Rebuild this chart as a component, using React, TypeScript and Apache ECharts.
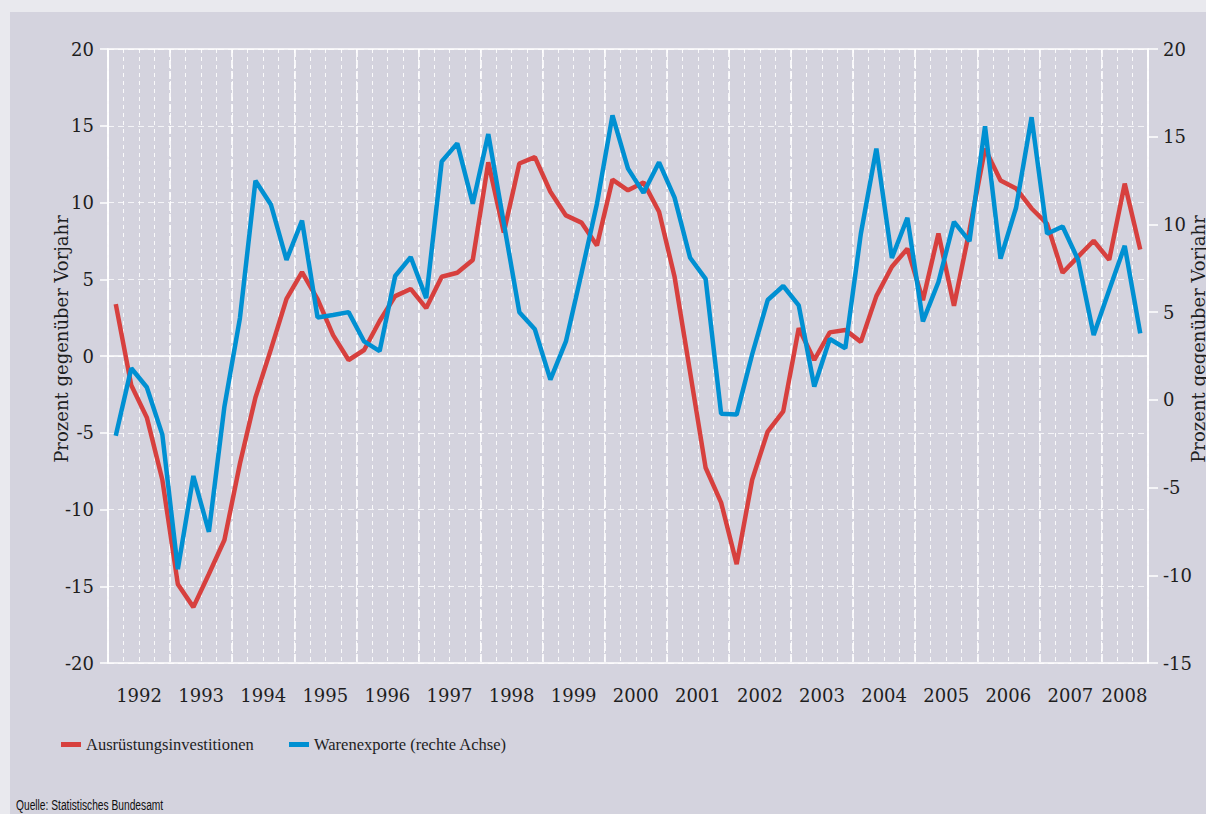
import React, { useEffect, useRef } from "react";
import * as echarts from "echarts";

// ---- Data ----
const years = [1992, 1993, 1994, 1995, 1996, 1997, 1998, 1999, 2000, 2001, 2002, 2003, 2004, 2005, 2006, 2007, 2008];
const lastQuarterOfLastYear = 3;
const quarterLabels: string[] = [];
years.forEach((y) => {
  const n = y === 2008 ? lastQuarterOfLastYear : 4;
  for (let q = 1; q <= n; q++) quarterLabels.push(`${y} Q${q}`);
});

// Ausrüstungsinvestitionen (left axis, % vs previous year)
const investitionen = [
  3.38, -1.91, -4.0, -8.06, -14.87, -16.36, -14.2, -11.99, -7.0, -2.7, 0.45, 3.72,
  5.47, 3.7, 1.36, -0.26, 0.39, 2.28, 3.9, 4.37, 3.12, 5.16, 5.42, 6.26,
  12.62, 8.04, 12.54, 12.96, 10.7, 9.16, 8.69, 7.2, 11.49, 10.79, 11.31, 9.4,
  5.16, -1.05, -7.28, -9.55, -13.56, -8.06, -4.92, -3.61, 1.81, -0.26, 1.54, 1.7,
  0.92, 3.9, 5.81, 6.99, 3.64, 7.98, 3.27, 8.2, 13.5, 11.44, 10.92, 9.61,
  8.61, 5.42, 6.47, 7.51, 6.26, 11.23, 6.94,
];

// Warenexporte (right axis)
const warenexporte = [
  -2.05, 1.8, 0.72, -1.98, -9.65, -4.34, -7.52, -0.38, 4.66, 12.49, 11.12, 7.98,
  10.22, 4.7, 4.84, 5.0, 3.33, 2.78, 7.06, 8.14, 5.8, 13.59, 14.62, 11.18,
  15.15, 10.08, 5.0, 4.02, 1.15, 3.33, 7.2, 11.18, 16.22, 13.18, 11.8, 13.54,
  11.53, 8.1, 6.9, -0.79, -0.84, 2.6, 5.69, 6.49, 5.39, 0.76, 3.47, 2.94,
  9.47, 14.32, 8.09, 10.38, 4.47, 6.72, 10.15, 9.05, 15.6, 8.05, 10.95, 16.11,
  9.47, 9.88, 7.98, 3.7, 6.26, 8.78, 3.79,
];

const seriesNames = ["Ausrüstungsinvestitionen", "Warenexporte (rechte Achse)"];
const axisName = "Prozent gegenüber Vorjahr";
const sourceText = "Quelle: Statistisches Bundesamt";

const leftAxisRange = { min: -20, max: 20, interval: 5 };
const rightAxisRange = { min: -15, max: 20, interval: 5 };
const xYearRange = { min: 1992, max: 2008.75 };

const RED = "#d7403e";
const BLUE = "#0090d2";
const TEXT = "#1e1e1e";
const SERIF = "'DejaVu Serif', serif";

export default function App() {
  const ref = useRef<HTMLDivElement>(null);

  useEffect(() => {
    if (!ref.current) return;
    const chart = echarts.init(ref.current, undefined, { renderer: "svg" });

    const yearLabelFormatter = (v: number) => {
      const frac = v - Math.floor(v);
      if (Math.abs(frac - 0.5) < 1e-6) {
        const y = Math.floor(v);
        return y === 2008 ? `{last|${y}}` : String(y);
      }
      return "";
    };

    chart.setOption({
      animation: false,
      backgroundColor: "#d4d3de",
      grid: {
        left: 98,
        top: 37,
        width: 1040,
        height: 614,
        show: true,
        borderColor: "#ffffff",
        borderWidth: 1.5,
        backgroundColor: "transparent",
        containLabel: false,
        outerBoundsMode: "none",
      },
      legend: [
        {
          data: [seriesNames[0]],
          left: 51,
          top: 724,
          padding: 0,
          icon: "rect",
          itemWidth: 20,
          itemHeight: 5,
          textStyle: { fontFamily: "'Liberation Serif', serif", fontSize: 16.5, color: TEXT },
        },
        {
          data: [seriesNames[1]],
          left: 279,
          top: 724,
          padding: 0,
          icon: "rect",
          itemWidth: 20,
          itemHeight: 5,
          textStyle: { fontFamily: "'Liberation Serif', serif", fontSize: 16.5, color: TEXT },
        },
      ],
      xAxis: [
        {
          type: "category",
          position: "bottom",
          data: quarterLabels,
          boundaryGap: true,
          axisLine: { show: false },
          axisTick: { show: false },
          axisLabel: { show: false },
          splitLine: {
            show: true,
            interval: 0,
            lineStyle: { color: "rgba(255,255,255,0.85)", type: [4, 4], width: 1 },
          },
        },
        {
          type: "value",
          position: "bottom",
          min: xYearRange.min,
          max: xYearRange.max,
          interval: 1,
          axisLine: { show: false },
          axisTick: { show: false },
          axisLabel: { show: false },
          splitLine: {
            show: true,
            lineStyle: { color: "#ffffff", type: [8, 3], width: 1.6 },
          },
        },
        {
          type: "value",
          position: "bottom",
          min: xYearRange.min,
          max: xYearRange.max,
          interval: 0.5,
          axisLine: { show: false },
          axisTick: { show: false },
          splitLine: { show: false },
          axisLabel: {
            show: true,
            margin: 23,
            fontFamily: SERIF,
            fontSize: 18,
            color: TEXT,
            formatter: yearLabelFormatter,
            rich: {
              last: { fontFamily: SERIF, fontSize: 18, color: TEXT, padding: [0, 16, 0, 0] },
            },
          },
        },
      ],
      yAxis: [
        {
          type: "value",
          position: "left",
          min: leftAxisRange.min,
          max: leftAxisRange.max,
          interval: leftAxisRange.interval,
          axisLine: { show: true, lineStyle: { color: "#ffffff", width: 1.5 } },
          axisTick: { show: true, length: 8, lineStyle: { color: "#ffffff", width: 1.5 } },
          axisLabel: { margin: 14, fontFamily: SERIF, fontSize: 18, color: TEXT },
          splitLine: {
            show: true,
            lineStyle: { color: "rgba(255,255,255,0.75)", type: [6, 4], width: 1.2 },
          },
          name: axisName,
          nameLocation: "middle",
          nameGap: 38,
          nameMoveOverlap: false,
          nameTextStyle: { fontFamily: SERIF, fontSize: 18, color: TEXT, padding: [0, 0, 0, 34] },
        },
        {
          type: "value",
          position: "right",
          min: rightAxisRange.min,
          max: rightAxisRange.max,
          interval: rightAxisRange.interval,
          axisLine: { show: true, lineStyle: { color: "#ffffff", width: 1.5 } },
          axisTick: { show: true, length: 10, lineStyle: { color: "#ffffff", width: 1.5 } },
          axisLabel: { margin: 15, fontFamily: SERIF, fontSize: 18, color: TEXT },
          splitLine: { show: false },
          name: axisName,
          nameLocation: "middle",
          nameGap: 41,
          nameMoveOverlap: false,
          nameTextStyle: { fontFamily: SERIF, fontSize: 18, color: TEXT, padding: [0, 0, 0, 34] },
        },
      ],
      series: [
        {
          name: seriesNames[0],
          type: "line",
          xAxisIndex: 0,
          yAxisIndex: 0,
          data: investitionen,
          symbol: "none",
          z: 3,
          lineStyle: { color: RED, width: 4.5 },
          itemStyle: { color: RED },
          markLine: {
            silent: true,
            symbol: ["none", "none"],
            z: 1,
            label: { show: false },
            lineStyle: { color: "#ffffff", type: "solid", width: 1.6 },
            data: [{ yAxis: 0 }],
          },
        },
        {
          name: seriesNames[1],
          type: "line",
          xAxisIndex: 0,
          yAxisIndex: 1,
          data: warenexporte,
          symbol: "none",
          z: 4,
          lineStyle: { color: BLUE, width: 4.5 },
          itemStyle: { color: BLUE },
        },
      ],
      graphic: [
        {
          type: "text",
          x: 6,
          y: 793,
          scaleX: 0.66,
          style: {
            text: sourceText,
            x: 0,
            y: 0,
            verticalAlign: "middle",
            fontFamily: "'Liberation Sans', sans-serif",
            fontSize: 15.5,
            fill: "#111111",
          },
        },
      ],
    });

    return () => chart.dispose();
  }, []);

  return (
    <div
      style={{
        position: "fixed",
        left: 0,
        top: 0,
        width: 1206,
        height: 814,
        background: "#e9e9ee",
        overflow: "hidden",
      }}
    >
      <div
        ref={ref}
        style={{ position: "absolute", left: 10, top: 12, width: 1196, height: 802 }}
      />
    </div>
  );
}
